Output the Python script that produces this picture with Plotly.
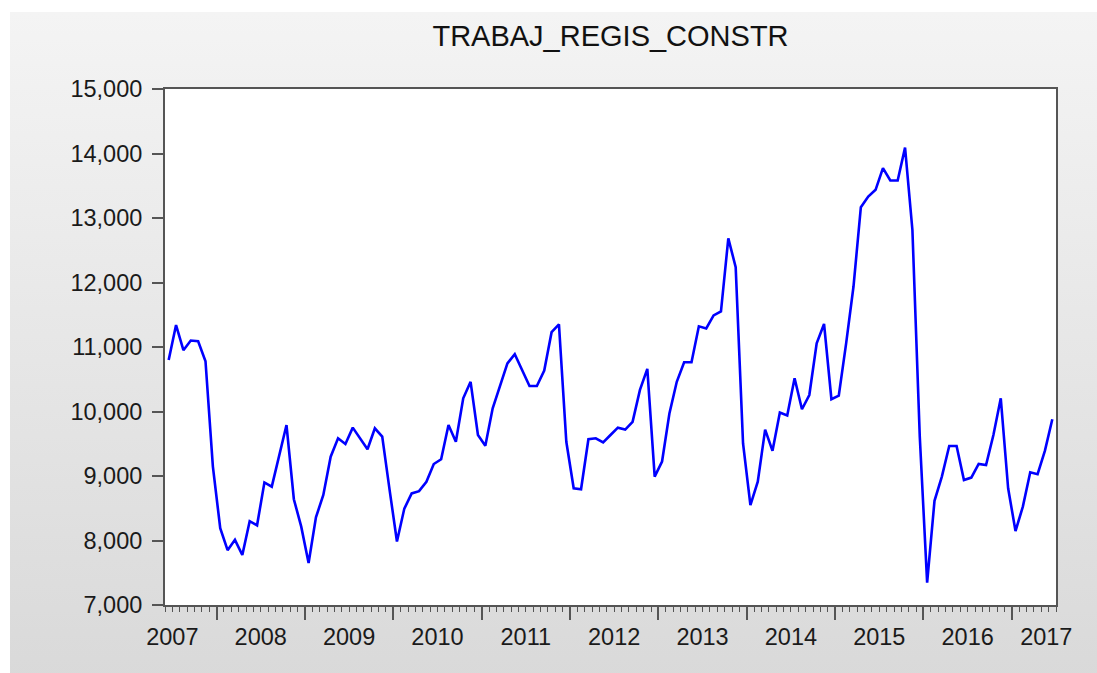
import plotly.graph_objects as go

# ---------------- data ----------------
title_text = "TRABAJ_REGIS_CONSTR"
start_year, start_month = 2007, 6          # first observation: June 2007 (monthly)
values = [
    10800, 11340, 10950, 11100, 11090, 10780, 9150,
    8190, 7850, 8010, 7775, 8300, 8235, 8900, 8835, 9300, 9790, 8640, 8215,
    7650, 8360, 8705, 9300, 9585, 9495, 9750, 9585, 9415, 9740, 9610, 8785,
    7985, 8495, 8730, 8765, 8910, 9186, 9260, 9790, 9530, 10205, 10460, 9635,
    9470, 10050, 10410, 10745, 10890, 10645, 10395, 10395, 10635, 11230, 11350, 9530,
    8810, 8795, 9570, 9585, 9520, 9635, 9750, 9720, 9840, 10335, 10660, 8990,
    9225, 9970, 10460, 10763, 10763, 11320, 11288, 11490, 11550, 12685, 12238, 9505,
    8550, 8912, 9720, 9390, 9983, 9937, 10515, 10035, 10255, 11057, 11357, 10190,
    10245, 11057, 11938, 13168, 13333, 13437, 13773, 13581, 13581, 14091, 12814, 9612,
    7346, 8615, 8991, 9465, 9465, 8938, 8975, 9186, 9171, 9636, 10204, 8809,
    8147, 8525, 9058, 9027, 9393, 9879,
]
year_labels = ["2007", "2008", "2009", "2010", "2011", "2012",
               "2013", "2014", "2015", "2016", "2017"]
y_ticks = [7000, 8000, 9000, 10000, 11000, 12000, 13000, 14000, 15000]

# ---------------- positions (uniform months, points mid-month) ----------------
x = []
for i in range(len(values)):
    m = (start_month - 1) + i
    yr = start_year + m // 12
    mo = m % 12
    x.append(yr + mo / 12 + 1 / 24)
x_min = start_year + (start_month - 1) / 12
x_max = x[-1] + 1 / 24
year_bounds = [int(y) for y in year_labels if x_min < int(y) < x_max]
label_pos = [min(int(y) + 0.5, x_max - 0.11) for y in year_labels]

W, H = 1097, 673
ML, MR, MT, MB = 165, 41, 89, 68
FONT = "Liberation Sans, Arial, sans-serif"

fig = go.Figure()
fig.add_trace(go.Scatter(x=x, y=values, mode="lines",
                         line=dict(color="#0000ff", width=2.6),
                         hoverinfo="x+y", showlegend=False))
# invisible trace to activate the label axis
fig.add_trace(go.Scatter(x=[x_min, x_max], y=[y_ticks[0], y_ticks[0]], xaxis="x2",
                         mode="lines", line=dict(width=0), opacity=0,
                         hoverinfo="skip", showlegend=False))

# background gradient (svg data uri)
svg = ("data:image/svg+xml;utf8,<svg xmlns='http://www.w3.org/2000/svg' width='100' height='100' "
       "preserveAspectRatio='none'><defs><linearGradient id='g' x1='0' y1='0' x2='0' y2='1'>"
       "<stop offset='0' stop-color='%23f4f4f4'/><stop offset='1' stop-color='%23d9d9d9'/>"
       "</linearGradient></defs><rect width='100' height='100' fill='url(%23g)'/></svg>")
pw = W - ML - MR
ph = H - MT - MB
left_px, top_px = 10, 12
img_x0 = (left_px - ML) / pw
img_y_top = (H - MB - top_px) / ph
img_y_bot = (H - MB - H - 10) / ph
fig.add_layout_image(dict(source=svg, xref="paper", yref="paper",
                          x=img_x0, y=img_y_top,
                          sizex=(W + 10 - left_px) / pw, sizey=img_y_top - img_y_bot,
                          xanchor="left", yanchor="top", sizing="stretch",
                          layer="below"))
# white plot area, white outer strips (left / top)
fig.add_shape(type="rect", xref="paper", yref="paper", x0=0, x1=1, y0=0, y1=1,
              fillcolor="white", line=dict(width=0), layer="below")
fig.add_shape(type="rect", xref="paper", yref="paper",
              x0=-ML / pw, x1=img_x0, y0=(MB - H) / ph * -1 * -1 - MB / ph - 0.5,
              y1=(H - MB) / ph + 0.5,
              fillcolor="white", line=dict(width=0), layer="below")
fig.add_shape(type="rect", xref="paper", yref="paper",
              x0=-ML / pw - 0.1, x1=(W - ML) / pw + 0.1, y0=img_y_top,
              y1=(H - MB) / ph + 0.5,
              fillcolor="white", line=dict(width=0), layer="below")

fig.update_layout(
    width=W, height=H,
    margin=dict(l=ML, r=MR, t=MT, b=MB),
    paper_bgcolor="#d9d9d9",
    plot_bgcolor="white",
    font=dict(family=FONT, color="#1a1a1a"),
    title=dict(text=title_text, x=0.5, xref="paper", xanchor="center",
               y=1 - 36 / H, yref="container", yanchor="middle",
               font=dict(size=29, family=FONT, color="#111111")),
    xaxis=dict(range=[x_min, x_max], showgrid=False, zeroline=False,
               showline=True, linecolor="#555555", linewidth=2, mirror=True,
               tickmode="array", tickvals=year_bounds, ticks="outside",
               ticklen=13, tickwidth=1.5, tickcolor="#555555",
               showticklabels=False,
               minor=dict(tick0=x_min, dtick=1 / 12, ticks="outside",
                          ticklen=5, tickwidth=1, tickcolor="#555555",
                          showgrid=False)),
    xaxis2=dict(overlaying="x", matches="x", anchor="y", side="bottom",
                showgrid=False, zeroline=False, showline=False,
                tickmode="array", tickvals=label_pos, ticktext=year_labels,
                ticks="", ticklabelstandoff=15,
                tickfont=dict(size=23.5, family=FONT, color="#1a1a1a")),
    yaxis=dict(range=[y_ticks[0], y_ticks[-1]], showgrid=False, zeroline=False,
               showline=True, linecolor="#555555", linewidth=2, mirror=True,
               tickmode="array", tickvals=y_ticks, tickformat=",d",
               ticks="outside", ticklen=11, tickwidth=1.5, tickcolor="#555555",
               ticklabelstandoff=5,
               tickfont=dict(size=23.5, family=FONT, color="#1a1a1a")),
)

fig.write_html("out.html",
               config={"displayModeBar": False},
               post_script="document.body.style.margin='0';"
                           "document.body.style.overflow='hidden';"
                           "document.body.style.background='#d9d9d9';")
